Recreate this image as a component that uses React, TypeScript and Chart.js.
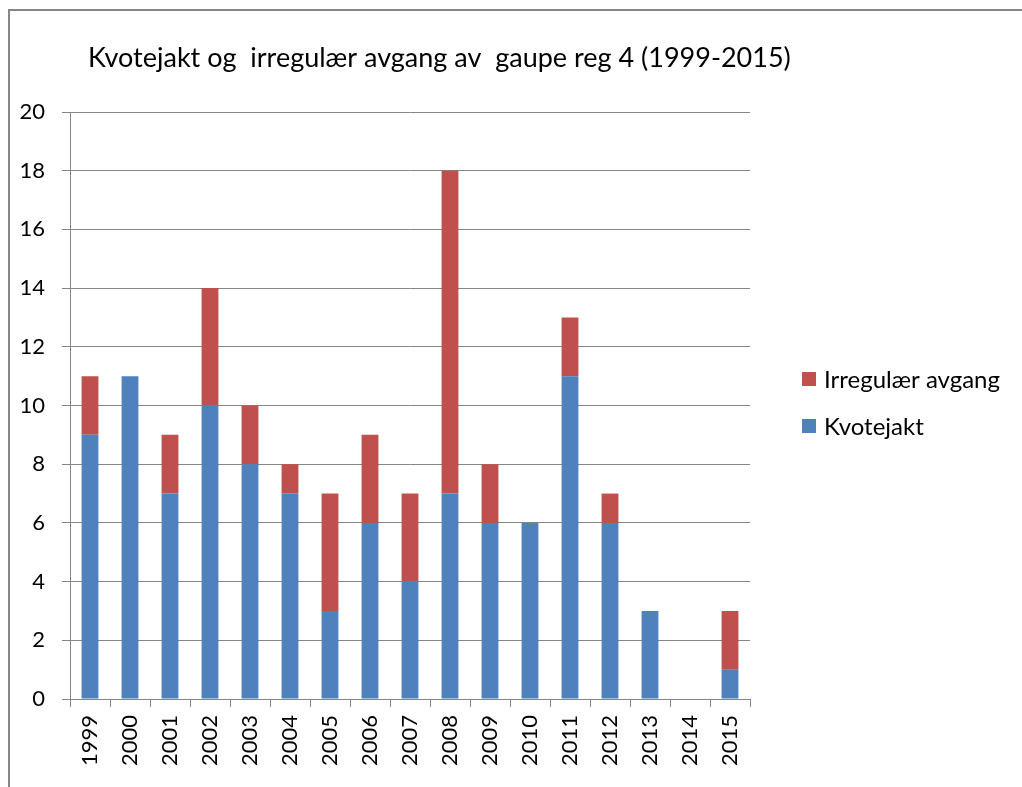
import React, { useEffect, useRef } from "react";
import { Chart, registerables } from "chart.js";

Chart.register(...registerables);

const years = ["1999", "2000", "2001", "2002", "2003", "2004", "2005", "2006", "2007", "2008", "2009", "2010", "2011", "2012", "2013", "2014", "2015"];
const kvotejakt = [9, 11, 7, 10, 8, 7, 3, 6, 4, 7, 6, 6, 11, 6, 3, 0, 1];
const irregular = [2, 0, 2, 4, 2, 1, 4, 3, 3, 11, 2, 0, 2, 1, 0, 0, 2];
const yMin = 0;
const yMax = 20;
const yStep = 2;
const titleText = "Kvotejakt og  irregulær avgang av  gaupe reg 4 (1999-2015)";
const seriesNames = ["Kvotejakt", "Irregulær avgang"];
const seriesColors = ["#4F81BD", "#C0504D"];

const FONT = "Lato, 'Open Sans', sans-serif";
const GRAY = "#868686";

const decor = {
  id: "decor",
  afterDraw(chart: any) {
    const ctx = chart.ctx;
    ctx.save();
    // outer frame
    ctx.strokeStyle = GRAY;
    ctx.lineWidth = 2;
    ctx.strokeRect(9, 10, 2000, 2000);
    // title
    ctx.fillStyle = "#000";
    ctx.font = `27px ${FONT}`;
    ctx.textBaseline = "alphabetic";
    ctx.textAlign = "left";
    ctx.fillText(titleText, 88, 67);
    // legend (reverse order)
    const items = chart.data.datasets.map((d: any) => ({ label: d.label, color: d.backgroundColor })).reverse();
    ctx.font = `24px ${FONT}`;
    ctx.textBaseline = "middle";
    items.forEach((it: any, i: number) => {
      const cy = 379 + i * 47;
      ctx.fillStyle = it.color;
      ctx.fillRect(802, cy - 7, 14, 14);
      ctx.fillStyle = "#000";
      ctx.fillText(it.label, 824, cy + 1);
    });
    ctx.restore();
  },
};

export default function App() {
  const ref = useRef<HTMLCanvasElement>(null);
  useEffect(() => {
    const chart = new Chart(ref.current as HTMLCanvasElement, {
      type: "bar",
      data: {
        labels: years,
        datasets: [
          { label: seriesNames[0], data: kvotejakt, backgroundColor: seriesColors[0], barPercentage: 0.42, categoryPercentage: 1 },
          { label: seriesNames[1], data: irregular, backgroundColor: seriesColors[1], barPercentage: 0.42, categoryPercentage: 1 },
        ],
      },
      options: {
        responsive: false,
        animation: false,
        layout: { padding: { top: 112, right: 272, bottom: 0, left: 0 } },
        plugins: { legend: { display: false }, title: { display: false }, tooltip: { enabled: false } },
        scales: {
          x: {
            stacked: true,
            grid: { display: true, drawOnChartArea: false, drawTicks: true, tickLength: 8, color: GRAY, offset: true },
            border: { color: GRAY, width: 1 },
            ticks: { minRotation: 90, maxRotation: 90, autoSkip: false, color: "#000", padding: 8, font: { family: FONT, size: 22 } },
            afterFit: (s: any) => { s.height = 88; },
          },
          y: {
            stacked: true,
            min: yMin,
            max: yMax,
            ticks: { stepSize: yStep, color: "#000", padding: 17, font: { family: FONT, size: 22 } },
            grid: { color: GRAY, tickLength: 8 },
            border: { color: GRAY, width: 1 },
            afterFit: (s: any) => { s.width = 70; },
          },
        },
      },
      plugins: [decor],
    } as any);
    return () => chart.destroy();
  }, []);
  return (
    <div style={{ position: "fixed", left: 0, top: 0, width: 1022, height: 787, background: "#fff" }}>
      <canvas ref={ref} width={1022} height={787} style={{ width: 1022, height: 787 }} />
    </div>
  );
}
